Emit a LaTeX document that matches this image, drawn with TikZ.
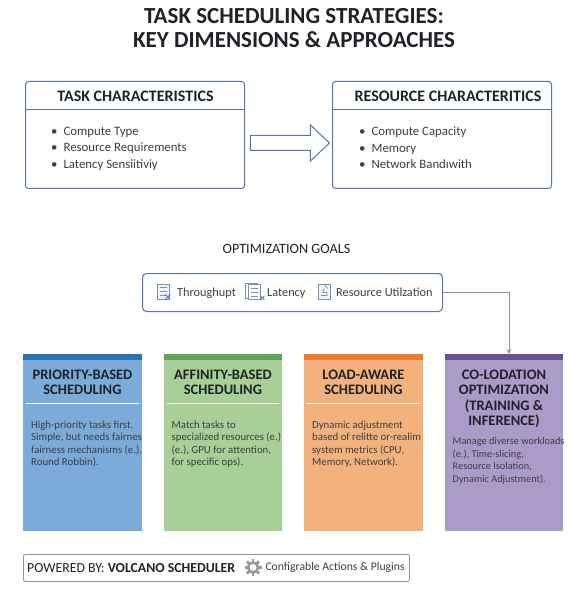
\documentclass[tikz,border=0pt]{standalone}
\usepackage{fontspec}
\setmainfont{Carlito}
\usepackage{xcolor}
\usetikzlibrary{positioning, arrows.meta, shapes.arrows, calc}

\definecolor{edgeblue}{HTML}{5A74A3}
\definecolor{edgegray}{HTML}{8A94A6}
\definecolor{inkdark}{HTML}{1F2328}
\definecolor{inksoft}{HTML}{3A3F46}
\definecolor{priofill}{HTML}{7BABD8}
\definecolor{priotop}{HTML}{2A72B8}
\definecolor{afffill}{HTML}{A8CF97}
\definecolor{afftop}{HTML}{5FA355}
\definecolor{loadfill}{HTML}{F3B27B}
\definecolor{loadtop}{HTML}{ED7D31}
\definecolor{colofill}{HTML}{AB9BC8}
\definecolor{colotop}{HTML}{6A4F96}

\newcommand{\fsize}[2]{\fontsize{#1}{#2}\selectfont}

\begin{document}
\begin{tikzpicture}[
  x=1pt, y=-1pt,
  panel/.style={draw=edgeblue, line width=1pt, rounded corners=3pt, minimum width=219pt,
              minimum height=107pt, anchor=north west},
  panelhead/.style={font=\fsize{16}{19}\bfseries, text=inkdark},
  panellist/.style={font=\fsize{12.8}{16.5}, text=inksoft, align=left, inner sep=0pt,
              anchor=north west},
  card/.style={minimum width=118.5pt, minimum height=177pt, anchor=north west, inner sep=0pt},
  cardband/.style={minimum width=118.5pt, minimum height=6pt, anchor=north, inner sep=0pt},
  cardhead/.style={font=\fsize{14.5}{15.5}\bfseries, text=inkdark, align=center, inner sep=0pt, anchor=north},
  cardbody/.style={font=\fsize{10.8}{12.5}, text=inksoft, align=left, inner sep=0pt, anchor=north west},
  rule/.style={white, line width=1pt},
  goal/.style={font=\fsize{12.3}{15}, text=inksoft, inner sep=0pt, anchor=base west},
  doc/.style={draw=edgeblue!80, line width=0.7pt, fill=edgeblue!8, minimum width=12pt,
              minimum height=15pt, inner sep=0pt},
  docmark/.style={edgeblue, line width=0.9pt},
  arr/.style={-{Stealth[length=5pt,width=5pt]}, draw=edgegray, line width=0.9pt}
]
  \useasboundingbox (0,0) rectangle (586,601);

  % title
  \node[font=\fsize{23}{24.5}\bfseries, text=inkdark, align=center, inner sep=0pt] (title) at (294,28)
    {TASK SCHEDULING STRATEGIES:\\KEY DIMENSIONS \& APPROACHES};

  % top boxes
  \node[panel] (task) at (25,81) {};
  \node[panel] (resource) at (332,81) {};
  \draw[edgeblue, line width=1pt] ($(task.north west)+(0,29)$) -- ($(task.north east)+(0,29)$);
  \draw[edgeblue, line width=1pt] ($(resource.north west)+(0,29)$) -- ($(resource.north east)+(0,29)$);
  \node[panelhead] (taskhead) at ($(task.north)+(.5,15.5)$) {TASK CHARACTERISTICS};
  \node[panelhead] (resourcehead) at ($(resource.north)+(6,15.5)$) {RESOURCE CHARACTERITICS};
  \node[panellist] (tasklist) at (51,126.5)
    {\textbullet\hspace{6pt}Compute Type\\\textbullet\hspace{6pt}Resource Requirements\\\textbullet\hspace{6pt}Latency Sensiitiviy};
  \node[panellist] (resourcelist) at (359,126.5)
    {\textbullet\hspace{6pt}Compute Capacity\\\textbullet\hspace{6pt}Memory\\\textbullet\hspace{6pt}Network Bandıwith};
  \node[single arrow, draw=edgeblue, line width=1pt, fill=white, inner sep=7pt,
        minimum height=79pt, single arrow head extend=10.5pt, single arrow tip angle=87]
        (flow) at (286,143) {};

  % goals
  \node[font=\fsize{14.2}{17}, text=inkdark, inner sep=0pt] (goalstitle) at (286.5,249) {OPTIMIZATION GOALS};
  \node[draw=edgeblue, line width=1pt, rounded corners=4pt, minimum width=300pt, minimum height=38pt,
        anchor=north west] (goals) at (142,273) {};
  \node[doc] (docone) at (163,291.5) {};
  \node[doc, fill=white] (doctwoback) at (251,290.5) {};
  \node[doc, fill=white] (doctwo) at (254,292) {};
  \node[doc] (docthree) at (324,291.5) {};
  \foreach \n in {docone,doctwo} {
    \foreach \d in {-4,0,4}
      \draw[edgeblue!80, line width=0.6pt] ($(\n.center)+(-3.5,\d)$) -- ($(\n.center)+(3.5,\d)$);
  }
  \draw[docmark] ($(docone.south east)+(-4,-5)$) -- ($(docone.south east)+(1,0)$);
  \draw[docmark] ($(docone.south east)+(1,-5)$) -- ($(docone.south east)+(-4,0)$);
  \draw[docmark] ($(doctwo.south east)+(0,-4)$) -- ($(doctwo.south east)+(4,0)$);
  \draw[docmark] ($(doctwo.south east)+(4,-4)$) -- ($(doctwo.south east)+(0,0)$);
  \draw[edgeblue!80, line width=0.7pt] ($(docthree.north)+(0,1)$) -- ($(docthree.center)+(4,-3)$);
  \draw[edgeblue!80, line width=0.7pt] ($(docthree.center)+(-3,4)$) -- ($(docthree.center)+(3,4)$)
    -- ($(docthree.center)+(3,1)$) -- ($(docthree.center)+(-1,1)$) -- ($(docthree.center)+(0,-3)$);
  \node[goal] (throughput) at (177,296) {Throughupt};
  \node[goal] (latency) at (267,296) {Latency};
  \node[goal] (utilization) at (336,296) {Resource Utilzation};

  % cards
  \node[card, fill=priofill] (priority) at (23,354) {};
  \node[card, fill=afffill] (affinity) at (163.5,354) {};
  \node[card, fill=loadfill] (load) at (304,354) {};
  \node[card, fill=colofill] (colocation) at (444.5,354) {};
  \node[cardband, fill=priotop] (priorityband) at (priority.north) {};
  \node[cardband, fill=afftop] (affinityband) at (affinity.north) {};
  \node[cardband, fill=loadtop] (loadband) at (load.north) {};
  \node[cardband, fill=colotop] (colocationband) at (colocation.north) {};

  \node[cardhead] (priorityhead) at ($(priority.north)+(0,15.5)$) {PRIORITY-BASED\\SCHEDULING};
  \node[cardhead] (affinityhead) at ($(affinity.north)+(0,15.5)$) {AFFINITY-BASED\\SCHEDULING};
  \node[cardhead] (loadhead) at ($(load.north)+(0,15.5)$) {LOAD-AWARE\\SCHEDULING};
  \node[cardhead] (colocationhead) at ($(colocation.north)+(0,15.5)$)
    {CO-LODATION\\OPTIMIZATION\\(TRAINING \&\\INFERENCE)};

  \foreach \n in {priority,affinity,load} {
    \draw[rule] ($(\n.north west)+(3,49)$) -- ($(\n.north east)+(-3,49)$);
  }

  \node[cardbody] (prioritytext) at (31,420.5)
    {High-priority tasks first.\\Simple, but needs fairnes\\fairness mechanisms (e.).\\Round Robbin).};
  \node[cardbody] (affinitytext) at (171.5,420.5)
    {Match tasks to\\specialized resources (e.)\\(e.), GPU for attention,\\for specific ops).};
  \node[cardbody] (loadtext) at (312,420.5)
    {Dynamic adjustment\\based of relitte or-realim\\system metrics (CPU,\\Memory, Network).};
  \node[cardbody, font=\fsize{10.3}{12.4}] (colocationtext) at (452.5,437.5)
    {Manage diverse workloads\\(e.), Time-slicing,\\Resource Isolation,\\Dynamic Adjustment).};

  % goal connector
  \draw[arr] (goals.east) -| ([xshift=5pt]colocationband.north);

  % footer
  \node[draw=edgegray, line width=0.9pt, rounded corners=2pt, minimum width=386pt, minimum height=27pt,
        anchor=north west] (footer) at (23,554) {};
  \node[font=\fsize{13.8}{16}, text=inkdark, inner sep=0pt, anchor=west] (powered) at (27,568)
    {POWERED BY: \textbf{VOLCANO SCHEDULER}};
  \node[draw=gray!80, line width=2.6pt, circle, minimum size=10pt, inner sep=0pt] (gear) at (253,567.5) {};
  \foreach \a in {0,45,...,315} {
    \draw[gray!80, line width=2.8pt] ($(gear.center)+(\a:5)$) -- ($(gear.center)+(\a:8.5)$);
  }
  \node[font=\fsize{11.7}{14}, text=inksoft, inner sep=0pt, right=6pt of gear.east] (plugins)
    {Configrable Actions \& Plugins};
\end{tikzpicture}
\end{document}
